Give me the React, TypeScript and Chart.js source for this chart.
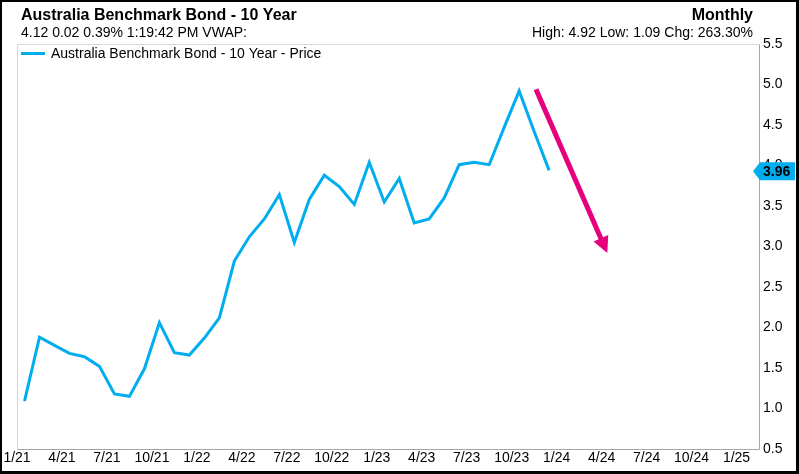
import React, { useEffect, useRef } from "react";
import { Chart, registerables } from "chart.js";

Chart.register(...registerables);

// ---- data ----
const headerTitle = "Australia Benchmark Bond - 10 Year";
const headerQuote = "4.12 0.02 0.39% 1:19:42 PM VWAP:";
const headerPeriod = "Monthly";
const headerStats = "High: 4.92 Low: 1.09 Chg: 263.30%";
const seriesLabel = "Australia Benchmark Bond - 10 Year - Price";

const months = [
  "1/21", "2/21", "3/21", "4/21", "5/21", "6/21", "7/21", "8/21", "9/21", "10/21", "11/21", "12/21",
  "1/22", "2/22", "3/22", "4/22", "5/22", "6/22", "7/22", "8/22", "9/22", "10/22", "11/22", "12/22",
  "1/23", "2/23", "3/23", "4/23", "5/23", "6/23", "7/23", "8/23", "9/23", "10/23", "11/23", "12/23",
];
const prices = [
  1.09, 1.88, 1.78, 1.68, 1.64, 1.52, 1.18, 1.15, 1.49, 2.06, 1.69, 1.66,
  1.87, 2.12, 2.82, 3.12, 3.34, 3.64, 3.05, 3.58, 3.88, 3.74, 3.52, 4.04,
  3.55, 3.84, 3.29, 3.34, 3.60, 4.01, 4.04, 4.01, 4.47, 4.92, 4.42, 3.94,
];
const xTickLabels = [
  "1/21", "4/21", "7/21", "10/21", "1/22", "4/22", "7/22", "10/22",
  "1/23", "4/23", "7/23", "10/23", "1/24", "4/24", "7/24", "10/24", "1/25",
];
const yMin = 0.5;
const yMax = 5.5;
const yStep = 0.5;
const xMaxMonths = 49.5;
const lastPriceLabel = "3.96";
// trend arrow annotation in data units: [month index, price]
const arrowFrom = [34.62, 4.94];
const arrowTo = [39.38, 2.92];

const BLUE = "#00AEEF";
const MAGENTA = "#E6007E";
const FONT = "Arial, 'Liberation Sans', sans-serif";

export default function App() {
  const canvasRef = useRef<HTMLCanvasElement | null>(null);

  useEffect(() => {
    const canvas = canvasRef.current;
    if (!canvas) return;

    const framePlugin = {
      id: "frame",
      beforeDatasetsDraw(chart: any) {
        const { ctx, chartArea: a } = chart;
        ctx.save();
        ctx.lineWidth = 1;
        const L = Math.round(a.left) + 0.5;
        const R = Math.round(a.right) + 0.5;
        const T = Math.round(a.top) + 0.5;
        const B = Math.round(a.bottom) + 0.5;
        ctx.strokeStyle = "#d9d9d9";
        ctx.beginPath();
        ctx.moveTo(L, B);
        ctx.lineTo(L, T);
        ctx.lineTo(R, T);
        ctx.stroke();
        ctx.strokeStyle = "#a6a6a6";
        ctx.beginPath();
        ctx.moveTo(R, T);
        ctx.lineTo(R, B);
        ctx.lineTo(L, B);
        ctx.stroke();
        ctx.restore();
      },
    };

    const arrowPlugin = {
      id: "arrow",
      afterDatasetsDraw(chart: any) {
        const { ctx } = chart;
        const xs = chart.scales.x;
        const ys = chart.scales.y;
        const x1 = xs.getPixelForValue(arrowFrom[0]);
        const y1 = ys.getPixelForValue(arrowFrom[1]);
        const x2 = xs.getPixelForValue(arrowTo[0]);
        const y2 = ys.getPixelForValue(arrowTo[1]);
        const dx = x2 - x1;
        const dy = y2 - y1;
        const len = Math.sqrt(dx * dx + dy * dy);
        const ux = dx / len;
        const uy = dy / len;
        const head = 16;
        const half = 8;
        const bx = x2 - ux * head;
        const by = y2 - uy * head;
        ctx.save();
        ctx.strokeStyle = MAGENTA;
        ctx.fillStyle = MAGENTA;
        ctx.lineWidth = 5;
        ctx.lineCap = "butt";
        ctx.beginPath();
        ctx.moveTo(x1, y1);
        ctx.lineTo(bx + ux * 2, by + uy * 2);
        ctx.stroke();
        ctx.beginPath();
        ctx.moveTo(x2, y2);
        ctx.lineTo(bx - uy * half, by + ux * half);
        ctx.lineTo(bx + uy * half, by - ux * half);
        ctx.closePath();
        ctx.fill();
        ctx.restore();
      },
    };

    const headerPlugin = {
      id: "header",
      afterDraw(chart: any) {
        const { ctx, chartArea: a } = chart;
        ctx.save();
        ctx.fillStyle = "#000";
        ctx.textBaseline = "alphabetic";
        ctx.textAlign = "left";
        ctx.font = `bold 16px ${FONT}`;
        ctx.fillText(headerTitle, 21, 20);
        ctx.font = `14px ${FONT}`;
        ctx.fillText(headerQuote, 21, 37);
        ctx.textAlign = "right";
        ctx.font = `bold 16px ${FONT}`;
        ctx.fillText(headerPeriod, 753, 20);
        ctx.font = `14px ${FONT}`;
        ctx.fillText(headerStats, 753, 37);

        // legend inside plot area
        const lx = a.left + 4;
        const ly = a.top + 9.5;
        ctx.strokeStyle = BLUE;
        ctx.lineWidth = 3;
        ctx.beginPath();
        ctx.moveTo(lx, ly);
        ctx.lineTo(lx + 24, ly);
        ctx.stroke();
        ctx.textAlign = "left";
        ctx.textBaseline = "alphabetic";
        ctx.fillStyle = "#000";
        ctx.font = `14px ${FONT}`;
        ctx.fillText(chart.data.datasets[0].label, lx + 30, a.top + 14);

        // last price tag on right axis
        const ys = chart.scales.y;
        const yv = ys.getPixelForValue(prices[prices.length - 1]) + 1;
        const tip = a.right - 6;
        const bodyL = a.right + 1;
        const bodyR = 795;
        ctx.fillStyle = BLUE;
        ctx.beginPath();
        ctx.moveTo(tip, yv);
        ctx.lineTo(bodyL, yv - 9);
        ctx.lineTo(bodyR, yv - 9);
        ctx.lineTo(bodyR, yv + 9);
        ctx.lineTo(bodyL, yv + 9);
        ctx.closePath();
        ctx.fill();
        ctx.fillStyle = "#000";
        ctx.textAlign = "left";
        ctx.textBaseline = "middle";
        ctx.font = `bold 14px ${FONT}`;
        ctx.fillText(lastPriceLabel, a.right + 4, yv + 0.5);
        ctx.restore();
      },
    };

    const chart = new Chart(canvas, {
      type: "line",
      data: {
        datasets: [
          {
            label: seriesLabel,
            data: prices.map((p, i) => ({ x: i + 0.5, y: p, m: months[i] })) as any,
            borderColor: BLUE,
            backgroundColor: BLUE,
            borderWidth: 3,
            pointRadius: 0,
            tension: 0,
            borderJoinStyle: "miter",
            fill: false,
          },
        ],
      },
      options: {
        animation: false,
        responsive: true,
        maintainAspectRatio: false,
        devicePixelRatio: 1,
        layout: { padding: { left: 17, top: 44, right: 0, bottom: 0 } },
        font: { family: FONT },
        plugins: {
          legend: { display: false },
          title: { display: false },
          tooltip: { enabled: false },
        },
        scales: {
          x: {
            type: "linear",
            min: 0,
            max: xMaxMonths,
            grid: { display: false, drawTicks: false },
            border: { display: false },
            afterBuildTicks: (scale: any) => {
              scale.ticks = xTickLabels.map((_, i) => ({ value: i * 3 }));
            },
            afterFit: (scale: any) => {
              scale.height = 25;
            },
            ticks: {
              autoSkip: false,
              maxRotation: 0,
              minRotation: 0,
              padding: 1,
              color: "#000",
              font: { size: 14, family: FONT },
              callback: (v: any) => xTickLabels[Math.round(Number(v) / 3)] ?? "",
            },
          },
          y: {
            position: "right",
            min: yMin,
            max: yMax,
            grid: { display: false, drawTicks: false },
            border: { display: false },
            afterFit: (scale: any) => {
              scale.width = 40;
            },
            ticks: {
              stepSize: yStep,
              padding: 4,
              color: "#000",
              font: { size: 14, family: FONT },
              callback: (v: any) => Number(v).toFixed(1),
            },
          },
        },
      },
      plugins: [framePlugin, arrowPlugin, headerPlugin],
    });

    return () => chart.destroy();
  }, []);

  return (
    <div
      style={{
        position: "absolute",
        left: 0,
        top: 0,
        width: 799,
        height: 474,
        background: "#fff",
      }}
    >
      <canvas ref={canvasRef} style={{ display: "block" }} />
      <div
        style={{
          position: "absolute",
          left: 0,
          top: 0,
          width: 799,
          height: 474,
          boxSizing: "border-box",
          borderStyle: "solid",
          borderColor: "#000",
          borderWidth: "2px 3px 3px 2px",
          pointerEvents: "none",
        }}
      />
    </div>
  );
}
